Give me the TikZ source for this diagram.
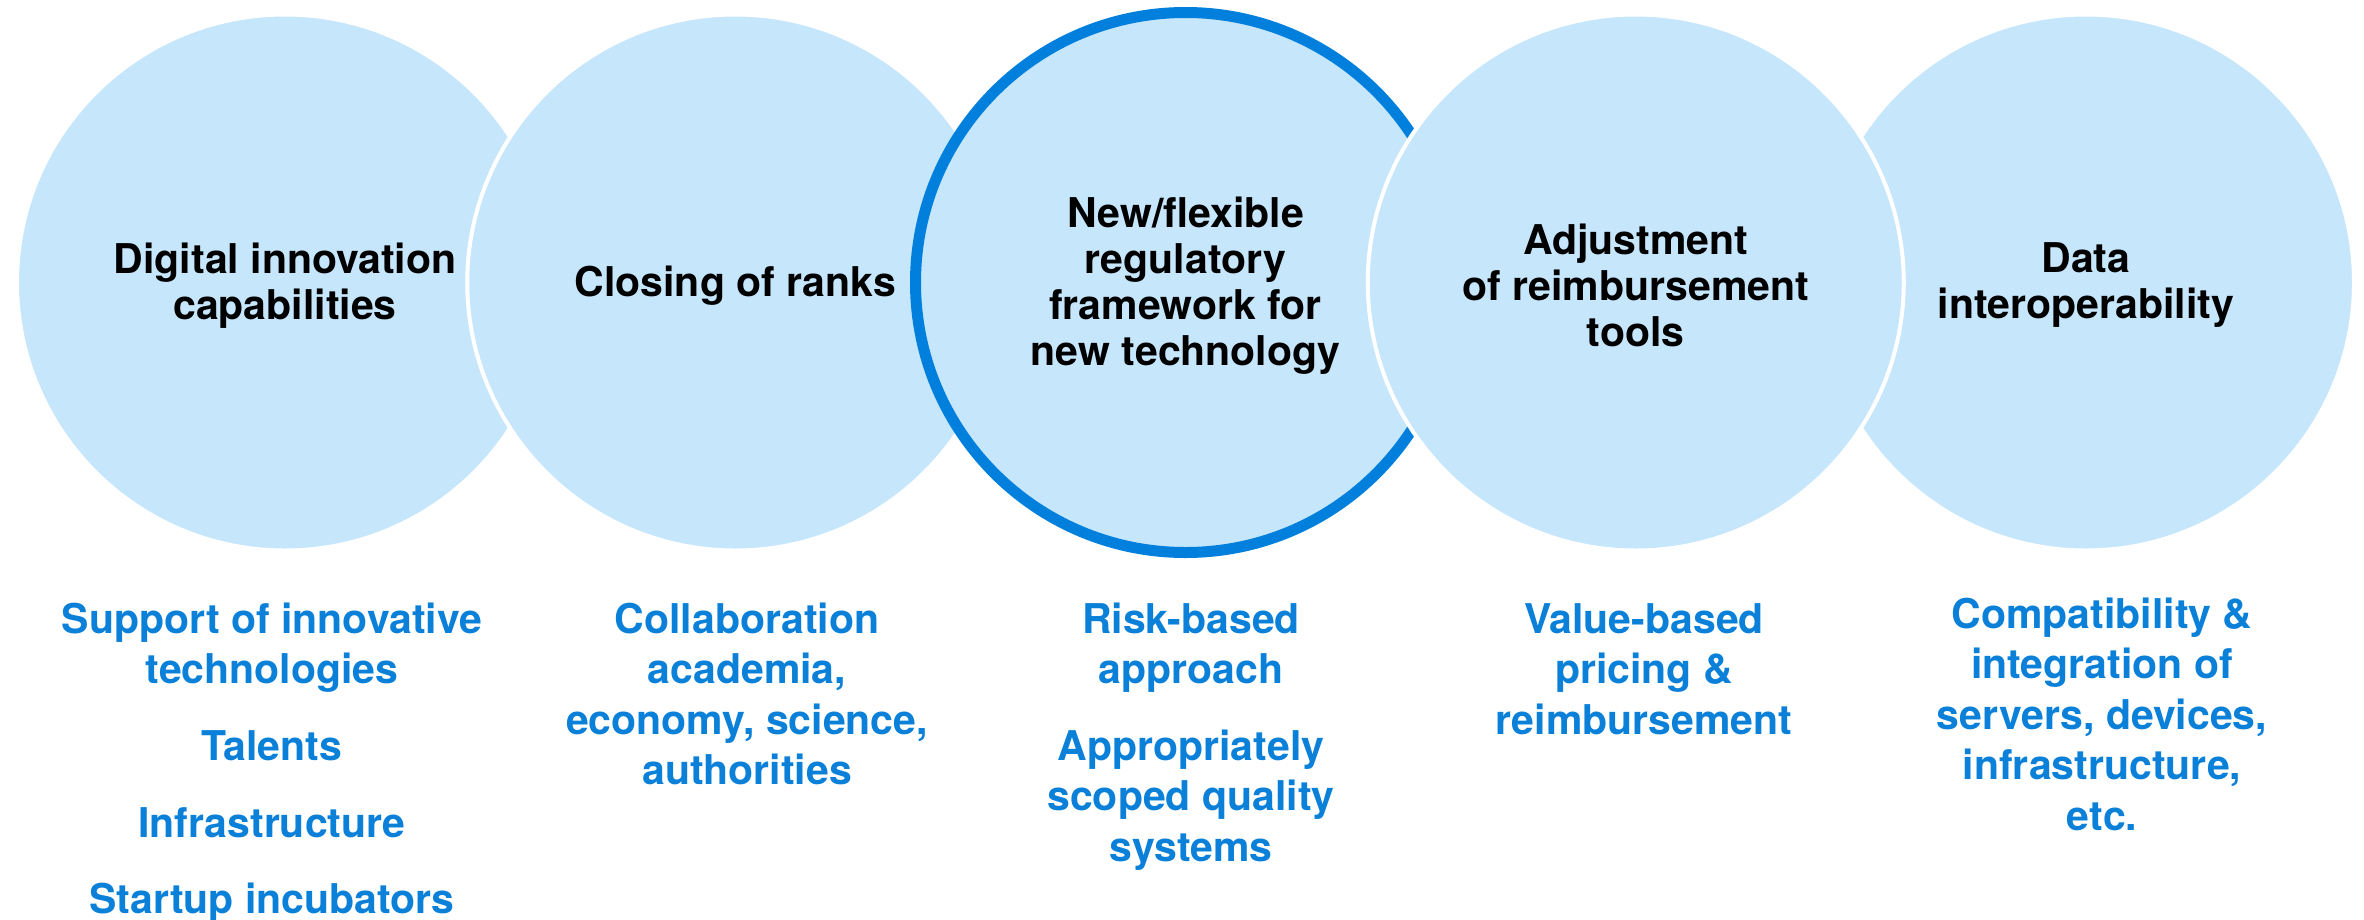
\documentclass[tikz,border=0pt]{standalone}
\usepackage{fontspec}
\setmainfont{TeX Gyre Heros}
\definecolor{cfill}{HTML}{C6E6FC}
\definecolor{cring}{HTML}{0080DC}
\definecolor{ctext}{HTML}{0A80D8}
\begin{document}
\begin{tikzpicture}[x=1pt,y=-1pt,
  bub/.style={circle, fill=cfill, draw=white, line width=4pt, minimum size=536pt, inner sep=0pt},
  hibub/.style={circle, fill=cfill, draw=cring, line width=11pt, minimum size=540pt, inner sep=0pt},
  ttl/.style={font=\bfseries\fontsize{41}{46}\selectfont, align=center, text=black, inner sep=0pt},
  itm/.style={font=\bfseries\fontsize{41}{50.5}\selectfont, align=center, text=ctext, inner sep=0pt, anchor=base}]
\useasboundingbox (0,0) rectangle (2364,919);
% circles
\node[bub] (c1) at (285,282.5) {};
\node[bub] (c2) at (735.25,282.5) {};
\node[hibub] (c3) at (1185.5,282.5) {};
\node[bub] (c5) at (2086,282.5) {};
\node[bub] (c4) at (1635.75,282.5) {};
% titles
\node[ttl] (t1) at ([yshift=-3pt]c1.center) {Digital innovation\\capabilities};
\node[ttl] (t2) at ([yshift=-3pt]c2.center) {Closing of ranks};
\node[ttl] (t3) at ([yshift=-3pt]c3.center) {New/flexible\\regulatory\\framework for\\new technology};
\node[ttl] (t4) at ([yshift=-3pt]c4.center) {Adjustment\\of reimbursement\\tools};
\node[ttl] (t5) at ([yshift=-3pt]c5.center) {Data\\interoperability};
% items (anchor base = baseline of the last line)
\node[itm] (a1) at (272,683.5) {Support of innovative\\technologies};
\node[itm] (a2) at (272,760) {Talents};
\node[itm] (a3) at (272,837) {Infrastructure};
\node[itm] (a4) at (272,913) {Startup incubators};
\node[itm] (b1) at (747,784.5) {Collaboration\\academia,\\economy, science,\\authorities};
\node[itm] (d1) at (1191,683.5) {Risk-based\\approach};
\node[itm] (d2) at (1191,861) {Appropriately\\scoped quality\\systems};
\node[itm] (e1) at (1644,734) {Value-based\\pricing \&\\reimbursement};
\node[itm] (f1) at (2102,830) {Compatibility \&\\integration of\\servers, devices,\\infrastructure,\\etc.};
\end{tikzpicture}
\end{document}
